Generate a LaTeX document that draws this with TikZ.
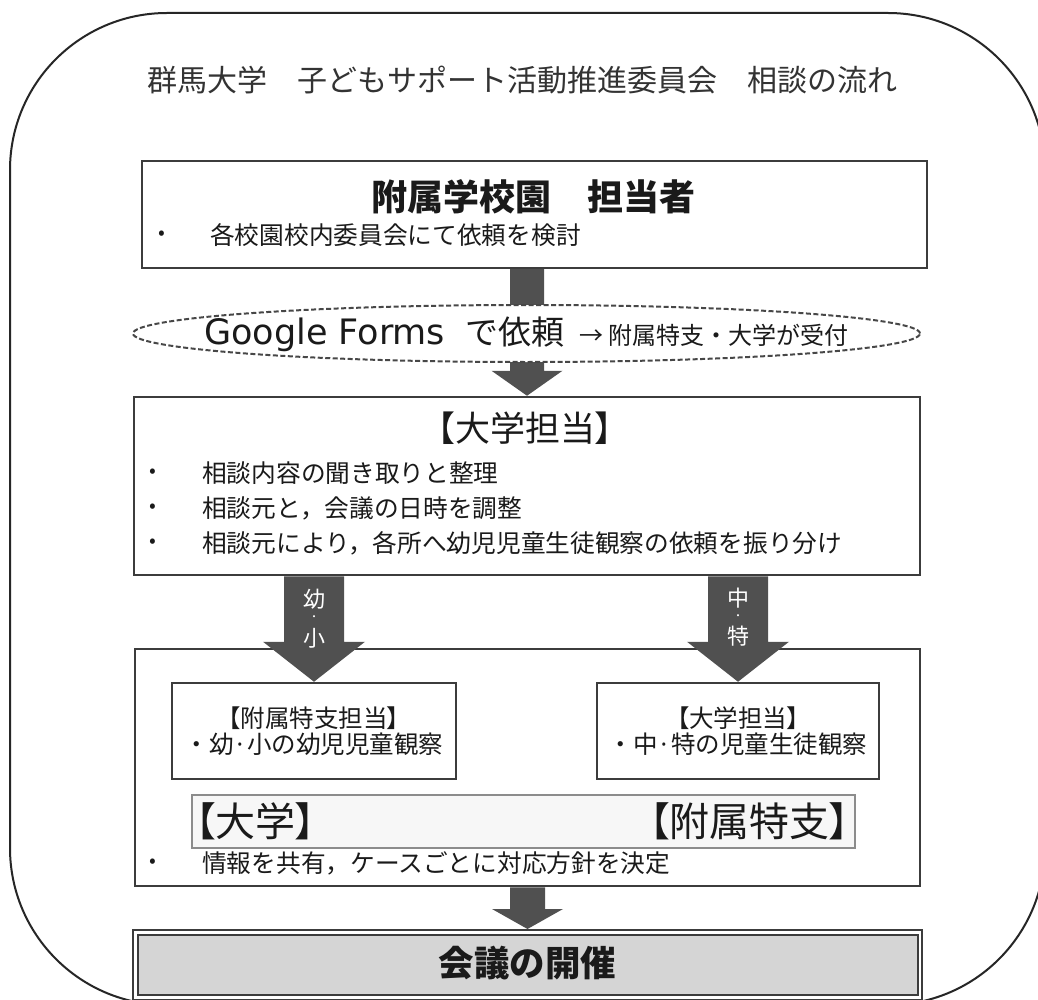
\documentclass[tikz,border=0pt]{standalone}
\usepackage{fontspec}
\setmainfont{Noto Sans CJK JP}
\newfontfamily\jpp[RawFeature=+palt]{Noto Sans CJK JP}
\newfontfamily\dejavu{DejaVu Sans}
\usetikzlibrary{shapes.geometric,calc}
\definecolor{arrowgray}{HTML}{505050}
\definecolor{boxline}{HTML}{3C3C3C}
\definecolor{textblack}{HTML}{1A1A1A}
\definecolor{finalfill}{HTML}{D5D5D5}
\definecolor{barfill}{HTML}{F7F7F7}
\definecolor{barline}{HTML}{8C8C8C}
\newcommand\myfs[1]{\fontsize{#1pt}{#1pt}\selectfont}
% #1 start, #2 end, #3 shaft width, #4 head width, #5 head length
\newcommand\bigvarrow[5]{%
  \path #1 coordinate (arS) #2 coordinate (arE);
  \fill[arrowgray] let \p1=(arS), \p2=(arE) in
    ({\x2-#3/2},\y1) -- ({\x2-#3/2},{\y2+#5}) -- ({\x2-#4/2},{\y2+#5}) --
    (\x2,\y2) -- ({\x2+#4/2},{\y2+#5}) -- ({\x2+#3/2},{\y2+#5}) --
    ({\x2+#3/2},\y1) -- cycle;}
\begin{document}
\begin{tikzpicture}[x=1pt,y=-1pt,
  boxstyle/.style={draw=boxline, line width=2.5pt, fill=white, inner sep=0pt},
  txt/.style={inner sep=0pt, text=textblack},
  bullettxt/.style={txt, anchor=west, font=\myfs{24.7}},
  dot/.style={txt, font=\myfs{20}},
  arrowlab/.style={inner sep=0pt, text=white, font=\myfs{22}},
  arrowdot/.style={inner sep=0pt, text=white, font=\myfs{10}}]
\useasboundingbox (0,0) rectangle (1038,1000);
\clip (0,0) rectangle (1038,1000);
\fill[white] (0,0) rectangle (1038,1000);
% outer frame
\draw[line width=2pt, draw=black!85, rounded corners=157pt] (10,13) rectangle (1045,1005);
% title
\node[txt, text=black!80, font=\myfs{30}] (title) at (522,80) {群馬大学　子どもサポート活動推進委員会　相談の流れ};
% box 1
\node[boxstyle, minimum width=785pt, minimum height=107pt] (box1) at (534.5,214.5) {};
\node[txt, font=\bfseries\myfs{36}] (box1t) at (533.5,197) {附属学校園　担当者};
\node[dot] (b1d) at (162,235) {•};
\node[bullettxt] (b1a) at (210,235) {各校園校内委員会にて依頼を検討};
% box 2
\node[boxstyle, minimum width=786pt, minimum height=178pt] (box2) at (527,486) {};
% arrow box1 -> box2 (passes under ellipse)
\bigvarrow{(box2.north |- box1.south)}{(box2.north)}{34pt}{71pt}{25pt}
% ellipse
\node[ellipse, draw=black!72, dash pattern=on 5pt off 2.5pt, line width=2pt, fill=white,
      minimum width=787pt, minimum height=57pt, inner sep=0pt] (forms) at (526.5,333.5) {};
\node[txt, anchor=base west, font=\dejavu\myfs{35}] (formsa) at (204,344) {Google Forms};
\node[txt, anchor=base west, font=\myfs{33}] (formsb) at (465,344) {で依頼};
\node[txt, anchor=base west, font=\myfs{24}] (formsc) at (579,344) {→ 附属特支・大学が受付};
% box 2 text
\node[txt, font=\jpp\myfs{35}] (box2t) at (525,428) {【大学担当】};
\node[dot] (b2d1) at (153,473) {•};
\node[dot] (b2d2) at (153,508) {•};
\node[dot] (b2d3) at (153,543) {•};
\node[bullettxt] (b2a) at (202,473) {相談内容の聞き取りと整理};
\node[bullettxt] (b2b) at (202,508) {相談元と，会議の日時を調整};
\node[bullettxt] (b2c) at (202,543) {相談元により，各所へ幼児児童生徒観察の依頼を振り分け};
% box 3
\node[boxstyle, minimum width=785pt, minimum height=237pt] (box3) at (527.5,767.5) {};
\node[boxstyle, minimum width=284pt, minimum height=96pt] (leftbox) at (314,731) {};
\node[boxstyle, minimum width=282pt, minimum height=96pt] (rightbox) at (738,731) {};
\node[txt, font=\jpp\myfs{24.5}] (leftt1) at ([yshift=13pt]leftbox.center) {【附属特支担当】};
\node[txt, font=\myfs{24.5}] (leftt2) at ([yshift=-13pt]leftbox.center) {・幼·小の幼児児童観察};
\node[txt, font=\jpp\myfs{24.5}] (rightt1) at ([yshift=13pt]rightbox.center) {【大学担当】};
\node[txt, font=\myfs{24.5}] (rightt2) at ([yshift=-13pt]rightbox.center) {・中·特の児童生徒観察};
% split arrows
\bigvarrow{(leftbox.north |- box2.south)}{(leftbox.north)}{60pt}{102pt}{40pt}
\bigvarrow{(rightbox.north |- box2.south)}{(rightbox.north)}{60pt}{102pt}{40pt}
\node[arrowlab] (lab1a) at ($(leftbox.north |- box2.south)+(0,23)$) {幼};
\node[arrowdot] (lab1b) at ($(leftbox.north |- box2.south)+(0,42)$) {・};
\node[arrowlab] (lab1c) at ($(leftbox.north |- box2.south)+(0,62)$) {小};
\node[arrowlab] (lab2a) at ($(rightbox.north |- box2.south)+(0,22)$) {中};
\node[arrowdot] (lab2b) at ($(rightbox.north |- box2.south)+(0,41)$) {・};
\node[arrowlab] (lab2c) at ($(rightbox.north |- box2.south)+(0,60)$) {特};
% gray bar
\node[draw=barline, fill=barfill, line width=2pt, minimum width=663pt, minimum height=53pt, inner sep=0pt] (bar) at (523.5,821.5) {};
\node[txt, anchor=west, font=\jpp\myfs{40}] (barl) at ([xshift=4pt]bar.west) {【大学】};
\node[txt, anchor=east, font=\jpp\myfs{40}] (barr) at ([xshift=-6pt]bar.east) {【附属特支】};
\node[dot] (b3d) at (153,863) {•};
\node[bullettxt] (b3a) at (202,863) {情報を共有，ケースごとに対応方針を決定};
% final box
\node[draw=boxline, line width=2pt, fill=white, minimum width=789pt, minimum height=70pt, inner sep=0pt] (final) at (527.5,965) {};
\node[draw=boxline, line width=2pt, fill=finalfill, minimum width=780pt, minimum height=60pt, inner sep=0pt] (finalin) at (final.center) {};
\node[txt, font=\bfseries\myfs{35.5}] (finalt) at ([yshift=2pt]final.center) {会議の開催};
\bigvarrow{(box3.south)}{(final.north)}{35pt}{71pt}{20pt}
\end{tikzpicture}
\end{document}
